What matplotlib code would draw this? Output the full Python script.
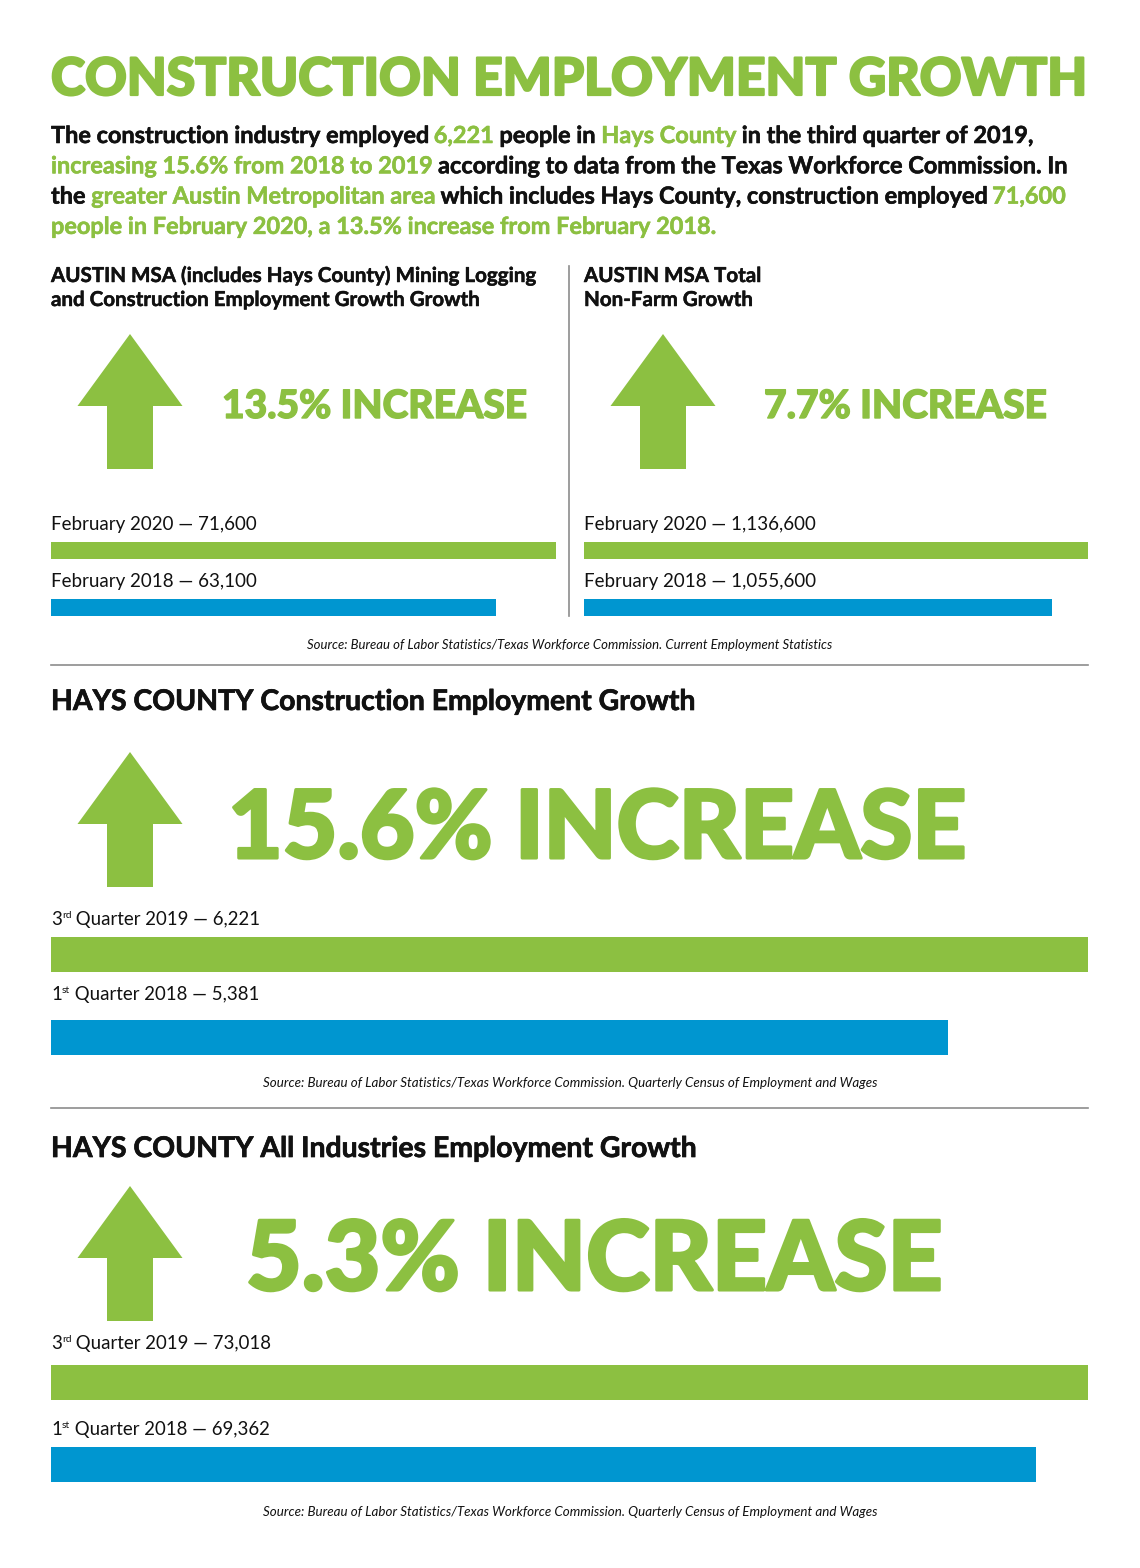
import matplotlib
matplotlib.use("Agg")
import matplotlib.pyplot as plt
import matplotlib.patheffects as pe
from matplotlib.patches import Polygon

# ---- data -------------------------------------------------------------
title = "CONSTRUCTION EMPLOYMENT GROWTH"

# intro paragraph, one list of (text, highlighted) runs per line
intro_lines = [
    [("The construction industry employed ", False), ("6,221", True),
     (" people in ", False), ("Hays County", True),
     (" in the third quarter of 2019,", False)],
    [("increasing 15.6% from 2018 to 2019", True),
     (" according to data from the Texas Workforce Commission. In", False)],
    [("the ", False), ("greater Austin Metropolitan area", True),
     (" which includes Hays County, construction employed ", False),
     ("71,600", True)],
    [("people in February 2020, a 13.5% increase from February 2018.", True)],
]

msa_construction_title = ["AUSTIN MSA (includes Hays County) Mining Logging",
                          "and Construction Employment Growth Growth"]
msa_construction_periods = ["February 2020", "February 2018"]
msa_construction_values = [71600, 63100]

msa_nonfarm_title = ["AUSTIN MSA Total", "Non-Farm Growth"]
msa_nonfarm_periods = ["February 2020", "February 2018"]
msa_nonfarm_values = [1136600, 1055600]

hays_construction_title = "HAYS COUNTY Construction Employment Growth"
hays_construction_periods = [("3", "rd", " Quarter 2019"), ("1", "st", " Quarter 2018")]
hays_construction_values = [6221, 5381]

hays_all_title = "HAYS COUNTY All Industries Employment Growth"
hays_all_periods = [("3", "rd", " Quarter 2019"), ("1", "st", " Quarter 2018")]
hays_all_values = [73018, 69362]

source_ces = "Source: Bureau of Labor Statistics/Texas Workforce Commission. Current Employment Statistics"
source_qcew = "Source: Bureau of Labor Statistics/Texas Workforce Commission. Quarterly Census of Employment and Wages"

# ---- style ------------------------------------------------------------
GREEN = "#8CC041"
BLUE = "#0096D0"
INK = "#111111"
RULE = "#8C8C8C"
FONT = "Lato"

W, H = 1140, 1568
fig = plt.figure(figsize=(W / 100, H / 100), dpi=100)
fig.patch.set_facecolor("white")

# pixel canvas for all the text and decorations
bg = fig.add_axes([0, 0, 1, 1])
bg.set_xlim(0, W)
bg.set_ylim(H, 0)
bg.axis("off")

renderer = fig.canvas.get_renderer()


def heavy(color, lw):
    # fake a heavier weight than the installed bold
    return [pe.withStroke(linewidth=lw, foreground=color)]


def text_width(s, size, **kw):
    # width incl. leading/trailing spaces, measured between two bars
    t = bg.text(0, 0, "|" + s + "|", fontsize=size, family=FONT, **kw)
    w = t.get_window_extent(renderer).width
    t.remove()
    t = bg.text(0, 0, "||", fontsize=size, family=FONT, **kw)
    w -= t.get_window_extent(renderer).width
    t.remove()
    return w


def fit_text(x, y, s, width, ha="left", stroke=0, color=INK, **kw):
    t = bg.text(x, y, s, ha=ha, va="baseline", fontsize=20, family=FONT,
                color=color, **kw)
    w = t.get_window_extent(renderer).width
    t.set_fontsize(20 * (width - stroke) / w)
    if stroke:
        t.set_path_effects(heavy(color, stroke))
    return t


def draw_runs(x, y, parts, size, stroke=0, **kw):
    # parts: (text, color, scale, rise)
    for s, color, scale, rise in parts:
        t = bg.text(x, y - rise, s, fontsize=size * scale, color=color,
                    family=FONT, va="baseline", **kw)
        if stroke:
            t.set_path_effects(heavy(color, stroke))
        x += text_width(s, size * scale, **kw)
    return x


def arrow(cx, tip_y):
    head_w, head_h, shaft_w, total_h = 105, 72, 46, 135
    pts = [(cx, tip_y), (cx + head_w / 2, tip_y + head_h),
           (cx + shaft_w / 2, tip_y + head_h), (cx + shaft_w / 2, tip_y + total_h),
           (cx - shaft_w / 2, tip_y + total_h), (cx - shaft_w / 2, tip_y + head_h),
           (cx - head_w / 2, tip_y + head_h)]
    bg.add_patch(Polygon(pts, closed=True, facecolor=GREEN, edgecolor="none"))


def bars(values, x0, x1, top1, top2, h):
    p = top2 - top1
    y0, y1 = top1, top2 + h
    ax = fig.add_axes([x0 / W, 1 - y1 / H, (x1 - x0) / W, (y1 - y0) / H])
    ax.barh([0, 1], values, height=h / p, color=[GREEN, BLUE], align="center")
    ax.set_xlim(0, max(values))
    ax.set_ylim(1 + h / (2 * p), -h / (2 * p))
    ax.axis("off")
    return ax


def growth(values):
    return f"{(values[0] / values[1] - 1) * 100:.1f}% INCREASE"


# ---- title + intro ----------------------------------------------------
fit_text(51, 95, title, 1037, color=GREEN, fontweight="black", stroke=1.6)

line3 = "".join(s for s, _ in intro_lines[2])
para_size = 20 * 1017 / text_width(line3, 20, fontweight="bold")
for i, line in enumerate(intro_lines):
    parts = [(s, GREEN if hi else INK, 1, 0) for s, hi in line]
    draw_runs(51, 143 + i * 30.3, parts, para_size, stroke=0.4, fontweight="bold")

# ---- Austin MSA panels -----------------------------------------------
hdr_size = 20 * 485 / text_width(msa_construction_title[0], 20, fontweight="bold")
for x0, lines in [(51, msa_construction_title), (584, msa_nonfarm_title)]:
    for i, s in enumerate(lines):
        t = bg.text(x0, 282 + i * 24, s, fontsize=hdr_size, fontweight="bold",
                    family=FONT, color=INK, va="baseline")
        t.set_path_effects(heavy(INK, 0.35))

bg.plot([569, 569], [266, 616], color=RULE, lw=1.2)

arrow(130, 334)
arrow(663, 334)
fit_text(222, 418, growth(msa_construction_values), 306, color=GREEN,
         fontweight="black", stroke=1.0)
fit_text(764, 418, growth(msa_nonfarm_values), 284, color=GREEN,
         fontweight="black", stroke=1.0)

lab_size = 20 * 206 / text_width("February 2020 — 71,600", 20)
for x0, periods, values in [(51, msa_construction_periods, msa_construction_values),
                            (584, msa_nonfarm_periods, msa_nonfarm_values)]:
    for i, (per, v) in enumerate(zip(periods, values)):
        bg.text(x0, 530 + i * 57, f"{per} — {v:,}", fontsize=lab_size,
                family=FONT, color=INK, va="baseline")

bars(msa_construction_values, 51, 556, 542, 599, 17)
bars(msa_nonfarm_values, 584, 1088, 542, 599, 17)

fit_text(570, 649, source_ces, 521, ha="center", style="italic")
bg.plot([51, 1088], [665, 665], color=RULE, lw=1.2)

# ---- Hays County sections --------------------------------------------
sec_size = 20 * 644 / text_width(hays_construction_title, 20, fontweight="bold")


def hays_section(title_s, periods, values, title_y, tip_y, big_x, big_w, big_y,
                 lab_y, tops, src_y):
    t = bg.text(51, title_y, title_s, fontsize=sec_size, fontweight="bold",
                family=FONT, color=INK, va="baseline")
    t.set_path_effects(heavy(INK, 0.5))
    arrow(130, tip_y)
    fit_text(big_x, big_y, growth(values), big_w, color=GREEN,
             fontweight="black", stroke=2.2)
    for per, v, ly in zip(periods, values, lab_y):
        num, sup, rest = per
        draw_runs(51, ly, [(num, INK, 1, 0), (sup, INK, 0.55, 7),
                           (f"{rest} — {v:,}", INK, 1, 0)], lab_size * 0.99)
    bars(values, 51, 1088, tops[0], tops[1], 35)
    fit_text(570, src_y, source_qcew, 611, ha="center", style="italic")


hays_section(hays_construction_title, hays_construction_periods, hays_construction_values,
             710, 752, 228, 740, 858, [925, 1000], [937, 1020], 1087)
bg.plot([51, 1088], [1108, 1108], color=RULE, lw=1.2)
hays_section(hays_all_title, hays_all_periods, hays_all_values,
             1157, 1186, 246, 699, 1290, [1349, 1435], [1365, 1447], 1516)

fig.savefig("out.png", dpi=100, facecolor="white")
